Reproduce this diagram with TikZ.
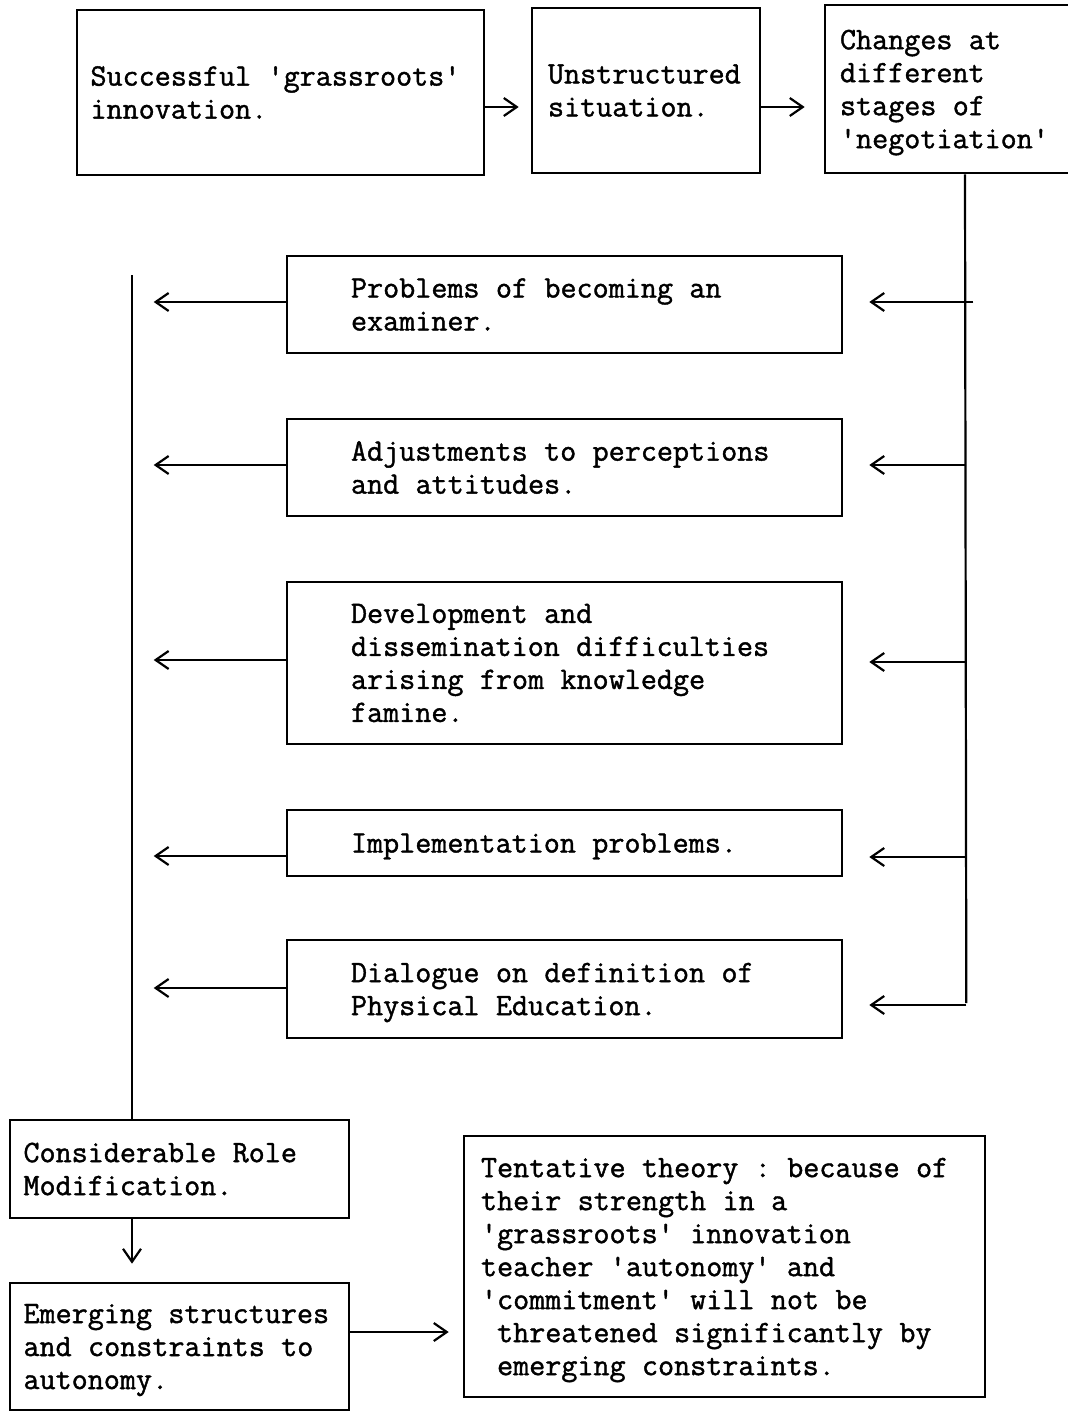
\documentclass[tikz,border=0pt]{standalone}
\usepackage{fontspec}
\setmonofont{lmmono12-regular.otf}[AutoFakeBold=1.3]
\usetikzlibrary{arrows.meta}
\newcommand{\q}{\textquotesingle}
\newcommand{\monospaces}{\spaceskip=8.19pt\relax\xspaceskip=8.19pt\relax}

\begin{document}
\begin{tikzpicture}[x=0.5pt,y=-0.5pt,
    box/.style={draw, line width=1.3pt, align=left, inner ysep=0pt,
      font=\ttfamily\bfseries\fontsize{15.6}{16.5}\selectfont,
      execute at begin node=\monospaces},
    mid/.style={box, text width=213.5pt, inner xsep=32pt},
    arr/.style={-{Straight Barb[length=6.5pt,width=9pt]}, line width=1.1pt},
    trunk/.style={line width=1.1pt}]
  \useasboundingbox (0,0) rectangle (1068,1413);
  \coordinate (rtrunk) at (965,0);
  \coordinate (ltop) at (132,275);

  % top row
  \node[box, text width=190pt, inner xsep=6.75pt, minimum height=82.5pt] (innov) at (280.5,92.5)
    {Successful \q grassroots\q\\innovation.};
  \node[box, text width=98pt, inner xsep=8pt, minimum height=82.5pt] (unstruct) at (646,90.5)
    {Unstructured\\situation.};
  \node[box, text width=110pt, inner xsep=7.5pt, minimum height=84pt] (change) at (950,89)
    {Changes at\\different\\stages of\\\smash{\q negotiation\q}};
  \draw[arr, shorten >=6pt] ([yshift=-7.25pt]innov.east) -- ([yshift=-8.25pt]unstruct.west);
  \draw[arr, shorten >=9.5pt] ([yshift=-8.25pt]unstruct.east) -- ([yshift=-9pt]change.west);

  % middle column
  \node[mid, minimum height=48.5pt] (exam) at (564.5,304.5)
    {Problems of becoming an\\examiner.};
  \node[mid, minimum height=48.5pt] (attit) at (564.5,467.5)
    {Adjustments to perceptions\\and attitudes.};
  \node[mid, minimum height=81pt] (famine) at (564.5,663)
    {Development and\\dissemination difficulties\\arising from knowledge\\famine.};
  \node[mid, minimum height=33pt, text depth=0pt] (impl) at (564.5,843)
    {Implementation problems.};
  \node[mid, minimum height=49pt] (dial) at (564.5,989)
    {Dialogue on definition of\\\smash{Physical Education.}};

  \draw[trunk] (change.south -| rtrunk) -- ([xshift=61.5pt,yshift=-7pt]dial.east);
  \foreach \n/\xr/\dr/\dl in {exam/65/1.25/1.25, attit/61.5/1.25/1.25, famine/61.5/0.5/1.5,
      impl/61.5/-7/-6.5, dial/61.5/-8/0.5} {
    \draw[arr, shorten >=13pt] ([xshift=\xr pt,yshift=\dr pt]\n.east) -- ([yshift=\dr pt]\n.east);
    \draw[arr, shorten >=11.5pt] ([yshift=\dl pt]\n.west) -- ([xshift=-77.5pt,yshift=\dl pt]\n.west);
  }

  % bottom
  \node[box, text width=156pt, inner xsep=6.75pt, minimum height=49pt] (role) at (179.5,1169)
    {Considerable Role\\Modification.};
  \node[box, text width=156pt, inner xsep=6.75pt, minimum height=63.5pt] (emerg) at (179.5,1346.5)
    {Emerging structures\\and constraints to\\\smash{autonomy.}};
  \node[box, text width=243.5pt, inner xsep=8.5pt, minimum height=130.5pt] (theory) at (724.5,1266.5)
    {Tentative theory : because of\\their strength in a\\\q grassroots\q\ innovation\\teacher \q autonomy\q\ and\\
     \q commitment\q\ will not be\\\phantom{x}threatened significantly by\\\smash{\phantom{x}emerging constraints.}};

  \draw[trunk] (ltop) -- (role.north -| ltop);
  \draw[arr, shorten >=9pt] (role.south -| ltop) -- (emerg.north -| ltop);
  \coordinate (eout) at ([yshift=7.25pt]emerg.east);
  \draw[arr, shorten >=7pt] (eout) -- (eout -| theory.west);
\end{tikzpicture}
\end{document}
